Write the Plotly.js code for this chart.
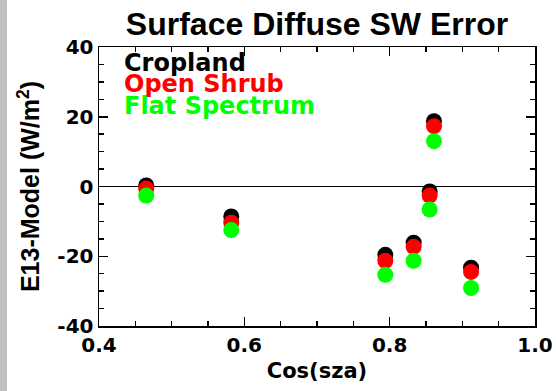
<!DOCTYPE html>
<html>
<head>
<meta charset="utf-8">
<script src="https://cdn.plot.ly/plotly-3.0.1.min.js"></script>
<style>
  html, body { margin: 0; padding: 0; background: #ffffff; }
  #wrap { position: relative; width: 556px; height: 391px; }
  #chart { width: 556px; height: 391px; }
  #strip { position: absolute; left: 0; top: 0; width: 7px; height: 391px; background: #c0c0c0; }
</style>
</head>
<body>
<div id="wrap"><div id="chart"></div><div id="strip"></div></div>
<script>
// Data
const cosSza   = [0.465, 0.582, 0.794, 0.833, 0.861, 0.855, 0.912];
const cropland = [0.3, -8.6, -19.6, -16.1, 18.7, -1.4, -23.3];
const openShrub = [-0.6, -10.4, -21.3, -17.3, 17.3, -2.6, -24.5];
const flatSpectrum = [-2.6, -12.5, -25.3, -21.3, 13.0, -6.6, -29.1];
const seriesNames = ["Cropland", "Open Shrub", "Flat Spectrum"];
const seriesColors = ["#000000", "#ff0000", "#00ff00"];
const xTickVals = [0.4, 0.6, 0.8, 1.0];
const xTickText = ["0.4", "0.6", "0.8", "1.0"];
const yTickVals = [-40, -20, 0, 20, 40];
const yTickText = ["-40", "-20", "0", "20", "40"];

const seriesValues = [cropland, openShrub, flatSpectrum];
const traces = seriesValues.map((vals, i) => ({
  type: "scatter",
  mode: "markers",
  x: cosSza,
  y: vals,
  name: seriesNames[i],
  marker: { color: seriesColors[i], size: 16, line: { width: 0 } },
  hoverinfo: "skip"
}));

const tickFont = { family: "DejaVu Sans", size: 20, color: "#000000", weight: "bold" };

const legendY = [0.9427, 0.8656, 0.7903];
const annotations = seriesNames.map((n, i) => ({
  xref: "paper", yref: "paper",
  x: 0.053, y: legendY[i],
  xanchor: "left", yanchor: "middle",
  text: "<b>" + n + "</b>",
  showarrow: false,
  font: { family: "DejaVu Sans", size: 24, color: seriesColors[i] }
}));

const layout = {
  width: 556, height: 391,
  margin: { l: 99, r: 21, t: 47, b: 65 },
  paper_bgcolor: "#ffffff",
  plot_bgcolor: "#ffffff",
  showlegend: false,
  title: {
    text: "<b>Surface Diffuse SW Error</b>",
    font: { family: "Liberation Sans", size: 32, color: "#000000" },
    x: 317 / 556, xanchor: "center", xref: "container",
    y: 1 - 24 / 391, yanchor: "middle", yref: "container"
  },
  xaxis: {
    range: [0.4, 1.0],
    tickmode: "array", tickvals: xTickVals, ticktext: xTickText,
    ticks: "inside", ticklen: 9, tickwidth: 1.5, tickcolor: "#000000",
    minor: { dtick: 0.05, tick0: 0.4, ticks: "inside", ticklen: 5, tickwidth: 1.5, tickcolor: "#000000", showgrid: false },
    showline: true, linecolor: "#000000", linewidth: 1.5, mirror: "ticks",
    showgrid: false, zeroline: false,
    tickfont: tickFont,
    title: { text: "<b>Cos(sza)</b>", font: { family: "DejaVu Sans", size: 21, color: "#000000" }, standoff: 8 }
  },
  yaxis: {
    range: [-40, 40],
    tickmode: "array", tickvals: yTickVals, ticktext: yTickText,
    ticks: "inside", ticklen: 9, tickwidth: 1.5, tickcolor: "#000000",
    minor: { dtick: 5, tick0: -40, ticks: "inside", ticklen: 5, tickwidth: 1.5, tickcolor: "#000000", showgrid: false },
    showline: true, linecolor: "#000000", linewidth: 1.5, mirror: "ticks",
    showgrid: false, zeroline: true, zerolinecolor: "#000000", zerolinewidth: 1.5,
    tickfont: tickFont,
    title: { text: "<b>E13-Model (W/m<sup>2</sup>)</b>", font: { family: "Liberation Sans", size: 25, color: "#000000" }, standoff: 10 }
  },
  annotations: annotations
};

Plotly.newPlot("chart", traces, layout, { displayModeBar: false, staticPlot: true });
</script>
</body>
</html>
